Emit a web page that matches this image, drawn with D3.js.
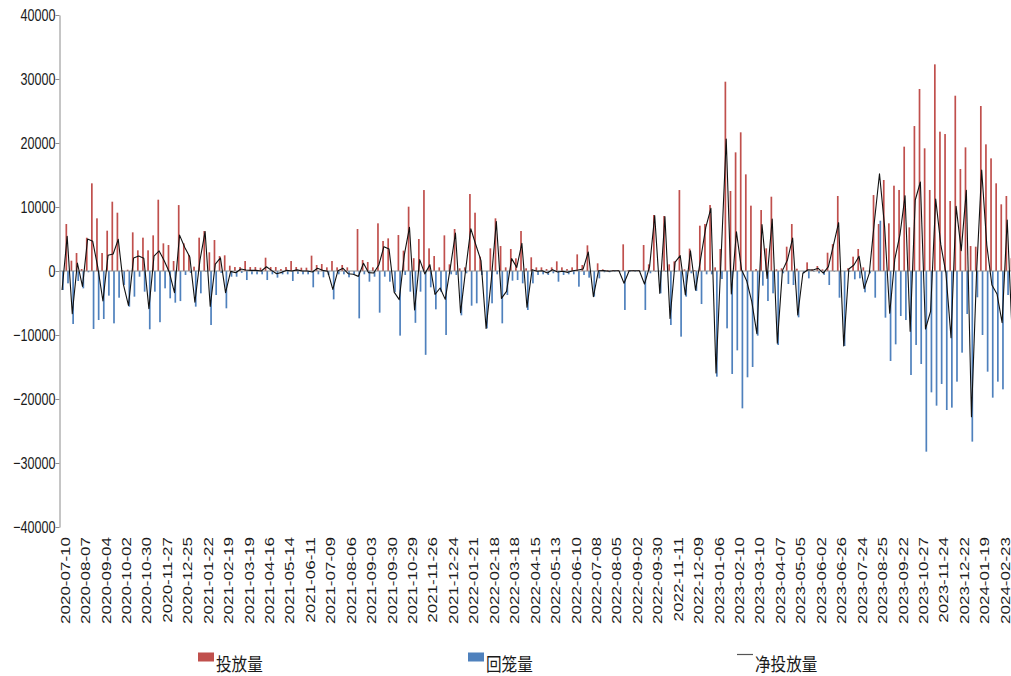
<!DOCTYPE html>
<html>
<head>
<meta charset="utf-8">
<script src="https://cdn.jsdelivr.net/npm/d3@7"></script>
<style>
  body { margin: 0; background: #fff; }
  text { font-family: "Liberation Sans", Arial, sans-serif; fill: #1a1a1a; }
</style>
</head>
<body>
<svg id="chart" width="1011" height="676"></svg>
<script>
// tick labels, one every 4 weeks (first label is the 2nd week)
const tickLabels = [
  "2020-07-10","2020-08-07","2020-09-04","2020-10-02","2020-10-30","2020-11-27","2020-12-25",
  "2021-01-22","2021-02-19","2021-03-19","2021-04-16","2021-05-14","2021-06-11","2021-07-09",
  "2021-08-06","2021-09-03","2021-09-30","2021-10-29","2021-11-26","2021-12-24","2022-01-21",
  "2022-02-18","2022-03-18","2022-04-15","2022-05-13","2022-06-10","2022-07-08","2022-08-05",
  "2022-09-02","2022-09-30","2022-11-11","2022-12-09","2023-01-06","2023-02-10","2023-03-10",
  "2023-04-07","2023-05-05","2023-06-02","2023-06-26","2023-07-24","2023-08-25","2023-09-22",
  "2023-10-27","2023-11-24","2023-12-22","2024-01-19","2024-02-23"
];

// 投放量 (weekly)
const inject = [
  0, 7340, 1610, 2810, 300, 5200, 13700, 8230, 2810, 6300,
  10830, 9110, 100, 200, 6040, 3230, 5210, 3230, 5570, 11140,
  4320, 4060, 1560, 10300, 4320, 2500, 680, 5210, 6250, 2920,
  4840, 2340, 2450, 830, 620, 620, 1560, 620, 620, 520,
  2080, 620, 620, 310, 620, 1560, 620, 520, 520, 2400,
  940, 1090, 570, 1560, 570, 940, 570, 0, 6560, 1720,
  1410, 570, 7450, 4690, 5100, 0, 5620, 3180, 10050, 2000,
  5000, 12650, 3540, 2340, 570, 5570, 1040, 6560, 420, 570,
  12030, 9110, 2240, 0, 3540, 8230, 3900, 570, 3440, 1980,
  6250, 420, 2140, 570, 570, 310, 570, 1510, 570, 310,
  570, 2600, 940, 4010, 0, 1200, 260, 150, 150, 150,
  4170, 150, 150, 150, 4060, 1040, 8750, 0, 8590, 1040,
  1500, 12650, 260, 3500, 150, 7080, 7340, 10310, 570, 3440,
  29580, 12500, 18540, 21670, 15100, 10210, 310, 9530, 3540, 11610,
  260, 420, 3800, 7340, 360, 0, 1350, 260, 780, 260,
  2860, 4200, 11720, 0, 420, 2240, 3440, 570, 0, 11870,
  7340, 14220, 7450, 13330, 12660, 19430, 6820, 22650, 28440, 19170,
  12660, 32290, 21770, 21400, 10940, 27390, 15940, 19320, 3900, 3800,
  25780, 19790, 17600, 13700, 10420, 11720, 2000
];

// 回笼量 (weekly, drawn below zero)
const withdraw = [
  -2970, -1930, -8280, -1560, -2710, -200, -9060, -7660, -7500, -3850,
  -8180, -4170, -2190, -5570, -4010, -890, -3230, -9110, -3230, -8000,
  -2710, -4270, -4950, -4700, -620, -300, -5570, -3490, -100, -8440,
  -3750, -300, -5830, -890, -890, -300, -1410, -520, -520, -520,
  -1410, -520, -1040, -520, -520, -1560, -450, -520, -520, -2550,
  -520, -990, -620, -4430, -520, -520, -990, -520, -7400, -520,
  -1670, -890, -6510, -890, -1670, -3300, -10100, -620, -3230, -8100,
  -3230, -13100, -2550, -5990, -3230, -10000, -520, -620, -6930, -360,
  -5420, -5050, -620, -8960, -5050, -520, -8180, -3750, -1510, -1410,
  -1930, -6090, -1930, -620, -520, -620, -360, -1670, -620, -520,
  -520, -2450, -620, -1040, -4010, -1150, -200, -200, -100, -100,
  -6090, -100, -100, -100, -6090, -360, -100, -3490, -100, -8440,
  -100, -10260, -4010, -360, -3130, -5160, -520, -520, -16510, -1250,
  -8960, -16090, -12400, -21460, -16610, -15000, -10100, -2290, -4690, -3490,
  -11560, -360, -2030, -2190, -7240, -360, -1150, -100, -360, -600,
  -2190, -100, -4170, -11720, -100, -1300, -1150, -3330, -360, -4170,
  7860, -7290, -14060, -11460, -7030, -7660, -16250, -11560, -14530, -28230,
  -18960, -21040, -17650, -21720, -21350, -17290, -12760, -6720, -26660, -4110,
  -10000, -15730, -19790, -17290, -18490, -3750, -12500
];

// 净投放量 = 投放量 + 回笼量(负值)
const net = inject.map((v, i) => v + withdraw[i]);

const yTicks = [40000, 30000, 20000, 10000, 0, -10000, -20000, -30000, -40000];

const svg = d3.select("#chart");
const stretch = 1.33;   // the picture is taller than wide, text is stretched too

// x band scale, one band per week
const step = 5.109;
let x = d3.scaleBand()
    .domain(d3.range(inject.length))
    .range([59.5, 59.5 + inject.length * step])
    .padding(0);

// y linear scale
let y = d3.scaleLinear()
    .domain([-40000, 40000])
    .range([527, 15]);

const cx = i => x(i) + x.bandwidth() / 2;
const barW = 1.7;

// 投放量 bars
svg.append("g").selectAll("rect")
    .data(inject)
    .join("rect")
    .attr("x", (d, i) => cx(i) - barW)
    .attr("y", d => y(Math.max(d, 0)))
    .attr("width", barW)
    .attr("height", d => Math.abs(y(d) - y(0)))
    .attr("fill", "#C0504D");

// 回笼量 bars
svg.append("g").selectAll("rect")
    .data(withdraw)
    .join("rect")
    .attr("x", (d, i) => cx(i))
    .attr("y", d => y(Math.max(d, 0)))
    .attr("width", barW)
    .attr("height", d => Math.abs(y(d) - y(0)))
    .attr("fill", "#4F81BD");

// zero line (category axis)
svg.append("line")
    .attr("x1", 59.5).attr("x2", 1011)
    .attr("y1", y(0)).attr("y2", y(0))
    .attr("stroke", "#8c8c8c")
    .attr("stroke-width", 1);

// y axis
let yAxis = svg.append("g")
    .attr("transform", "translate(59.5,0)")
    .call(d3.axisLeft(y).tickValues(yTicks).tickFormat(d3.format("d"))
        .tickSize(4).tickSizeOuter(0).tickPadding(4));
yAxis.select(".domain").attr("stroke", "#8c8c8c");
yAxis.selectAll(".tick line").attr("stroke", "#8c8c8c");
yAxis.selectAll("text")
    .attr("x", null).attr("dy", null)
    .attr("transform", `translate(-4,0) scale(1,${stretch}) translate(0,4.3)`)
    .style("font-size", "12.6px")
    .style("fill", "#1a1a1a");

// x tick labels (low position, rotated)
let xAxis = svg.append("g")
    .attr("transform", "translate(0,533)")
    .call(d3.axisBottom(x)
        .tickValues(d3.range(1, inject.length, 4))
        .tickFormat(i => tickLabels[(i - 1) / 4])
        .tickSize(0));
xAxis.select(".domain").remove();
xAxis.selectAll("text")
    .attr("x", null).attr("y", null).attr("dy", null)
    .attr("transform", `translate(-2,4) scale(1,${stretch}) rotate(-90)`)
    .attr("dy", "0.35em")
    .style("text-anchor", "end")
    .style("font-size", "12.8px")
    .style("fill", "#1a1a1a");

// net line
svg.append("path")
    .datum(net)
    .attr("fill", "none")
    .attr("stroke", "#111")
    .attr("stroke-width", 1.1)
    .attr("stroke-linejoin", "round")
    .attr("d", d3.line().x((d, i) => cx(i)).y(d => y(d)));

// legend
const legend = [
  { name: "投放量", color: "#C0504D", type: "rect", x: 198 },
  { name: "回笼量", color: "#4F81BD", type: "rect", x: 468 },
  { name: "净投放量", color: "#555", type: "line", x: 737 }
];
let lg = svg.append("g").selectAll("g").data(legend).join("g")
    .attr("transform", d => `translate(${d.x},0)`);
lg.filter(d => d.type === "rect").append("rect")
    .attr("x", 0).attr("y", 652.5).attr("width", 16).attr("height", 9)
    .attr("fill", d => d.color);
lg.filter(d => d.type === "line").append("line")
    .attr("x1", 0).attr("x2", 16).attr("y1", 654.5).attr("y2", 654.5)
    .attr("stroke", d => d.color).attr("stroke-width", 1.2);
lg.append("text")
    .attr("transform", `translate(18,671) scale(1,1.2)`)
    .style("font-family", "'Noto Sans CJK SC', sans-serif")
    .style("font-size", "15.6px")
    .style("fill", "#1a1a1a")
    .text(d => d.name);
</script>
</body>
</html>
